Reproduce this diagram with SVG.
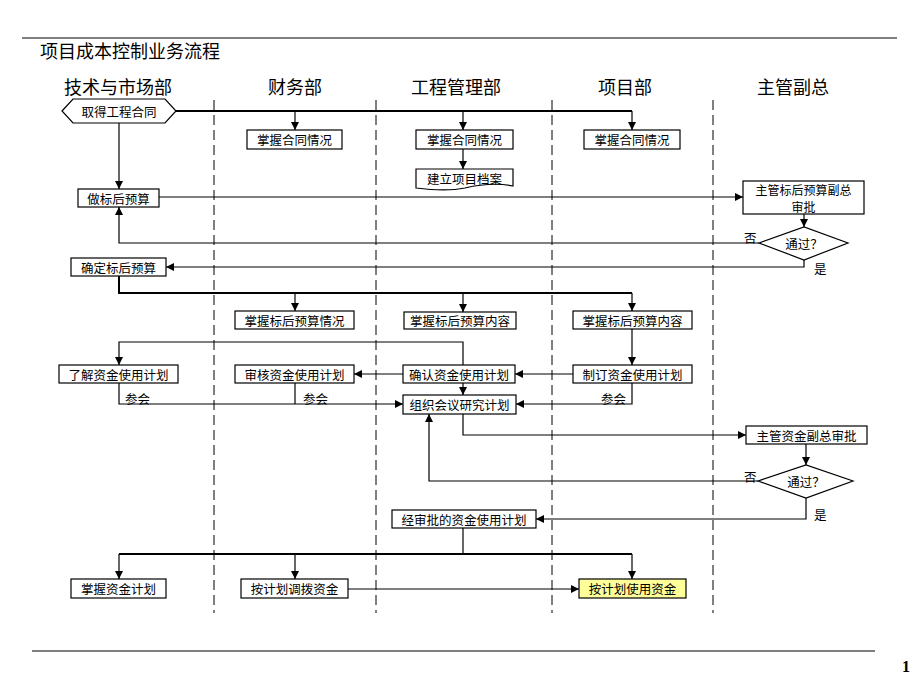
<svg xmlns="http://www.w3.org/2000/svg" width="920" height="690" viewBox="0 0 920 690">
<defs>
<marker id="ah" viewBox="0 0 10 10" refX="10" refY="5" markerWidth="8" markerHeight="8" markerUnits="userSpaceOnUse" orient="auto">
<path d="M0,0 L10,5 L0,10 Z" fill="#000"/>
</marker>
<style>
text{font-family:"Noto Sans CJK SC","Liberation Sans",sans-serif;fill:#000;}
.t{font-size:12.5px;text-anchor:middle;dominant-baseline:central;}
.lab{font-size:12.5px;dominant-baseline:central;}
.hdr{font-size:18px;text-anchor:middle;dominant-baseline:central;}
.box{fill:#fff;stroke:#000;stroke-width:1.2;}
.ln{fill:none;stroke:#000;stroke-width:1.2;}
.thick{fill:none;stroke:#000;stroke-width:2;}
.arr{fill:none;stroke:#000;stroke-width:1.2;marker-end:url(#ah);}
.dash{stroke:#000;stroke-width:1;stroke-dasharray:10,5;}
</style>
</defs>
<rect width="920" height="690" fill="#fff"/>
<line x1="22" y1="38" x2="897" y2="38" stroke="#000" stroke-width="1.2"/>
<text x="40" y="50" style="font-size:18px;dominant-baseline:central;">项目成本控制业务流程</text>
<g id="lanes">
<text class="hdr" x="118" y="86">技术与市场部</text>
<text class="hdr" x="295" y="86">财务部</text>
<text class="hdr" x="456" y="86">工程管理部</text>
<text class="hdr" x="625" y="86">项目部</text>
<text class="hdr" x="793" y="86">主管副总</text>
<line class="dash" x1="214" y1="100" x2="214" y2="613"/>
<line class="dash" x1="376" y1="100" x2="376" y2="613"/>
<line class="dash" x1="552" y1="100" x2="552" y2="613"/>
<line class="dash" x1="713" y1="100" x2="713" y2="613"/>
</g>
<g id="connectors">
<path class="thick" d="M175,111 H632"/>
<path class="arr" d="M295,111 V130"/>
<path class="arr" d="M463,111 V130"/>
<path class="arr" d="M632,111 V130"/>
<path class="arr" d="M119,123 V189"/>
<path class="arr" d="M463,149 V169"/>
<path class="arr" d="M159,197 H743"/>
<path class="arr" d="M804,214 V227"/>
<path class="arr" d="M759,243 H119 V207"/>
<path class="arr" d="M804,260 V267 H166"/>
<path class="thick" d="M119,276 V293 H632"/>
<path class="arr" d="M295,293 V311"/>
<path class="arr" d="M463,293 V312"/>
<path class="arr" d="M632,293 V311"/>
<path class="arr" d="M632,329 V365"/>
<path class="arr" d="M573,374 H515"/>
<path class="arr" d="M403,374 H354"/>
<path class="arr" d="M463,365 V342 H119 V365"/>
<path class="arr" d="M463,383 V395"/>
<path class="arr" d="M119,383 V404 H403"/>
<path class="ln" d="M295,383 V404"/>
<path class="arr" d="M632,383 V404 H516"/>
<path class="arr" d="M463,414 V435 H746"/>
<path class="arr" d="M806,444 V465"/>
<path class="arr" d="M758,481 H429 V414"/>
<path class="arr" d="M806,498 V519 H536"/>
<path class="ln" d="M463,528 V554"/>
<path class="thick" d="M119,554 H632"/>
<path class="arr" d="M119,554 V579"/>
<path class="arr" d="M295,554 V579"/>
<path class="arr" d="M632,554 V579"/>
<path class="arr" d="M348,589 H579"/>
<text class="lab" x="744" y="237">否</text>
<text class="lab" x="814" y="268">是</text>
<text class="lab" x="744" y="476">否</text>
<text class="lab" x="814" y="514">是</text>
<text class="lab" x="125" y="398">参会</text>
<text class="lab" x="303" y="398">参会</text>
<text class="lab" x="601" y="398">参会</text>
</g>
<g id="n_qudehetong">
<polygon class="box" points="62,111 73,99 165,99 176,111 165,123 73,123"/>
<text class="t" x="119" y="111">取得工程合同</text>
</g>
<g id="n_caiwu_hetong">
<rect class="box" x="247" y="130" width="95" height="19"/>
<text class="t" x="294.5" y="139.5">掌握合同情况</text>
</g>
<g id="n_gongcheng_hetong">
<rect class="box" x="416" y="130" width="97" height="19"/>
<text class="t" x="464.5" y="139.5">掌握合同情况</text>
</g>
<g id="n_xiangmu_hetong">
<rect class="box" x="584" y="130" width="96" height="19"/>
<text class="t" x="632" y="139.5">掌握合同情况</text>
</g>
<g id="n_dangan">
<path class="box" d="M416,169 H513 V186 C498,183 482,184 465,188 C450,191 432,190 416,188 Z"/>
<text class="t" x="464.5" y="178">建立项目档案</text>
</g>
<g id="n_zuoyusuan">
<rect class="box" x="78" y="189" width="81" height="18"/>
<text class="t" x="118.5" y="198">做标后预算</text>
</g>
<g id="n_yusuan_shenpi">
<rect class="box" x="743" y="181" width="121" height="33"/>
<text class="t" x="803.5" y="189.5" style="font-size:12px">主管标后预算副总</text>
<text class="t" x="803.5" y="206" style="font-size:12px">审批</text>
</g>
<g id="n_tongguo1">
<polygon class="box" points="759,243 804,227 848,243 804,260"/>
<text class="t" x="804" y="243.5">通过？</text>
</g>
<g id="n_queding">
<rect class="box" x="71" y="258" width="95" height="18"/>
<text class="t" x="118.5" y="267">确定标后预算</text>
</g>
<g id="n_caiwu_yusuan">
<rect class="box" x="235" y="311" width="119" height="18"/>
<text class="t" x="294.5" y="320">掌握标后预算情况</text>
</g>
<g id="n_gongcheng_yusuan">
<rect class="box" x="404" y="312" width="112" height="17"/>
<text class="t" x="460" y="320.5">掌握标后预算内容</text>
</g>
<g id="n_xiangmu_yusuan">
<rect class="box" x="573" y="311" width="119" height="18"/>
<text class="t" x="632.5" y="320">掌握标后预算内容</text>
</g>
<g id="n_zhiding">
<rect class="box" x="573" y="365" width="119" height="18"/>
<text class="t" x="632.5" y="374">制订资金使用计划</text>
</g>
<g id="n_queren">
<rect class="box" x="403" y="365" width="112" height="18"/>
<text class="t" x="459" y="374">确认资金使用计划</text>
</g>
<g id="n_shenhe">
<rect class="box" x="235" y="365" width="119" height="18"/>
<text class="t" x="294.5" y="374">审核资金使用计划</text>
</g>
<g id="n_liaojie">
<rect class="box" x="59" y="365" width="119" height="18"/>
<text class="t" x="118.5" y="374">了解资金使用计划</text>
</g>
<g id="n_zuzhi">
<rect class="box" x="403" y="395" width="113" height="19"/>
<text class="t" x="459.5" y="404.5">组织会议研究计划</text>
</g>
<g id="n_zijin_shenpi">
<rect class="box" x="746" y="426" width="121" height="18"/>
<text class="t" x="806.5" y="435">主管资金副总审批</text>
</g>
<g id="n_tongguo2">
<polygon class="box" points="758,481 806,465 853,481 806,498"/>
<text class="t" x="806" y="481.5">通过？</text>
</g>
<g id="n_jingshenpi">
<rect class="box" x="392" y="510" width="144" height="18"/>
<text class="t" x="464" y="519">经审批的资金使用计划</text>
</g>
<g id="n_zhangwo_zijin">
<rect class="box" x="71" y="579" width="95" height="19"/>
<text class="t" x="118.5" y="588.5">掌握资金计划</text>
</g>
<g id="n_diaobo">
<rect class="box" x="241" y="579" width="107" height="19"/>
<text class="t" x="294.5" y="588.5">按计划调拨资金</text>
</g>
<g id="n_shiyong">
<rect x="579" y="579" width="107" height="19" fill="#ffff99" stroke="#000" stroke-width="1.2"/>
<text class="t" x="632.5" y="588.5">按计划使用资金</text>
</g>
<line x1="32" y1="651" x2="875" y2="651" stroke="#000" stroke-width="1.2"/>
<text x="906" y="666" style="font-family:'Liberation Serif',serif;font-size:16px;font-weight:bold;text-anchor:middle;dominant-baseline:central;">1</text>
</svg>
